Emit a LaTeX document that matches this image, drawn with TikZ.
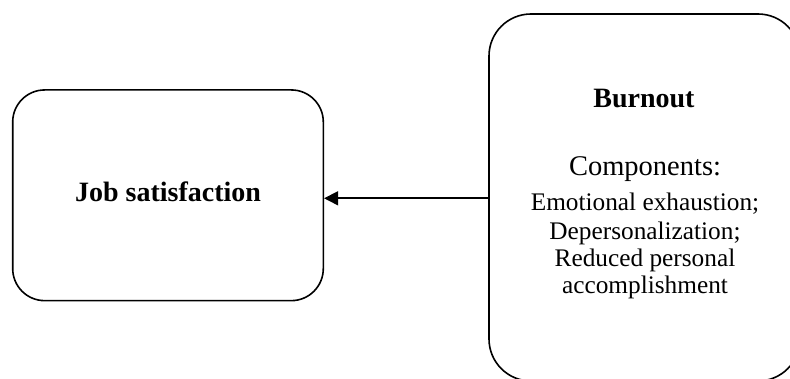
\documentclass[tikz,border=0pt]{standalone}
\usepackage{fontspec}
\setmainfont{Liberation Serif}
\usetikzlibrary{arrows.meta}
\tikzset{
  box/.style={draw=black, line width=1.6pt, rounded corners=32pt, inner sep=0pt},
  txt/.style={anchor=base, inner sep=0pt},
  conn/.style={line width=1.6pt, -{Triangle[length=14pt,width=14pt]}},
}
\begin{document}
\begin{tikzpicture}[x=1pt,y=1pt]
\useasboundingbox (0,0) rectangle (790,379);
\clip (0,0) rectangle (790,379);
\node[box, minimum width=310.6pt, minimum height=210.7pt] (job) at (168,183.7) {};
\node[box, rounded corners=42pt, minimum width=311pt, minimum height=367pt] (burn) at (644.5,181.5) {};
\node[txt] (jobt) at (168,177) {\fontsize{28}{28}\selectfont\bfseries Job satisfaction};
\node[txt] (bt) at (644,271) {\fontsize{28}{28}\selectfont\bfseries Burnout};
\node[txt] (ct) at (645,203) {\fontsize{28.5}{28.5}\selectfont Components:};
\node[txt] (l1) at (645,168) {\fontsize{25.3}{25.3}\selectfont Emotional exhaustion;};
\node[txt] (l2) at (645,139.5) {\fontsize{25.3}{25.3}\selectfont Depersonalization;};
\node[txt] (l3) at (645,112) {\fontsize{25.3}{25.3}\selectfont Reduced personal};
\node[txt] (l4) at (645,85) {\fontsize{25.3}{25.3}\selectfont accomplishment};
\draw[conn] (burn.west |- 0,180.7) -- (job.east |- 0,180.7);
\end{tikzpicture}
\end{document}
